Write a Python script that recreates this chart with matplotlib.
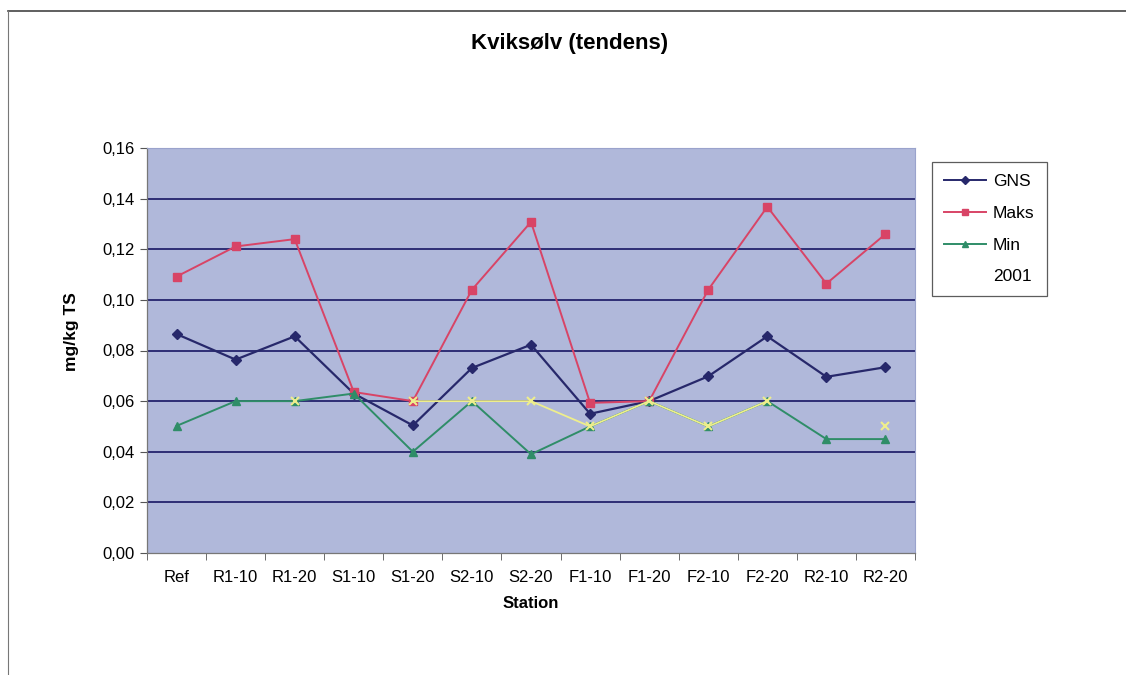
import numpy as np
import matplotlib
matplotlib.use("Agg")
import matplotlib.pyplot as plt
from matplotlib.lines import Line2D

plt.rcParams['font.family'] = ['Liberation Sans', 'DejaVu Sans']

stations = ["Ref", "R1-10", "R1-20", "S1-10", "S1-20", "S2-10", "S2-20",
            "F1-10", "F1-20", "F2-10", "F2-20", "R2-10", "R2-20"]
gns = [0.0865, 0.0764, 0.0856, 0.0630, 0.0504, 0.0731, 0.0823,
       0.0550, 0.0600, 0.0698, 0.0856, 0.0696, 0.0734]
maks = [0.1092, 0.1211, 0.1240, 0.0636, 0.0600, 0.1040, 0.1308,
        0.0593, 0.0600, 0.1040, 0.1368, 0.1064, 0.1260]
mins = [0.0502, 0.0600, 0.0600, 0.0630, 0.0400, 0.0600, 0.0390,
        0.0500, 0.0600, 0.0500, 0.0600, 0.0450, 0.0450]
y2001 = [np.nan, np.nan, 0.060, np.nan, 0.060, 0.060, 0.060,
         0.050, 0.060, 0.050, 0.060, np.nan, 0.050]
yticks = [0.00, 0.02, 0.04, 0.06, 0.08, 0.10, 0.12, 0.14, 0.16]

fig = plt.figure(figsize=(11.26, 6.75), dpi=100)
fig.patch.set_facecolor('white')
ax = fig.add_axes([147/1126, 1-553/675, 768/1126, 405/675])
ax.set_facecolor('#b0b8da')

x = np.arange(len(stations))
c_gns = '#27286b'
c_maks = '#d84466'
c_min = '#2f8d68'
c_2001 = '#eeee8c'

ax.plot(x, gns, color=c_gns, lw=1.6, marker='D', ms=5, zorder=3)
ax.plot(x, maks, color=c_maks, lw=1.4, marker='s', ms=6, zorder=4)
ax.plot(x, mins, color=c_min, lw=1.4, marker='^', ms=6, zorder=5)
ax.plot(x, y2001, color=c_2001, lw=1.3, marker='x', ms=6, mew=1.5, zorder=6)

ax.set_xlim(-0.5, len(stations) - 0.5)
ax.set_ylim(0, 0.16)
ax.set_yticks(yticks)
ax.set_yticklabels([f"{v:.2f}".replace('.', ',') for v in yticks], fontsize=12)
for v in yticks[1:-1]:
    ax.axhline(v, color='#2e2e75', lw=1.4, zorder=1)

ax.set_xticks(x)
ax.set_xticklabels(stations, fontsize=12)
ax.set_xticks(np.arange(-0.5, len(stations)), minor=True)
ax.tick_params(axis='x', which='major', length=0, pad=12)
ax.tick_params(axis='x', which='minor', length=5, color='#555555', direction='out')
ax.tick_params(axis='y', length=5, color='#555555', direction='out', pad=4)

for s in ['top', 'right']:
    ax.spines[s].set_color('#9aa3cc')
    ax.spines[s].set_linewidth(0.8)
for s in ['left', 'bottom']:
    ax.spines[s].set_color('#777777')
    ax.spines[s].set_linewidth(0.9)

ax.set_ylabel("mg/kg TS", fontsize=12.5, fontweight='bold')
ax.yaxis.set_label_coords((79 - 147) / 768, (553 - 332) / 405)
ax.set_xlabel("Station", fontsize=12, fontweight='bold', labelpad=8)

fig.text(570/1126, 1 - 44/675, "Kviksølv (tendens)", ha='center', va='center',
         fontsize=16, fontweight='bold')

handles = [
    Line2D([], [], color=c_gns, marker='D', ms=4, lw=1.4),
    Line2D([], [], color=c_maks, marker='s', ms=5, lw=1.4),
    Line2D([], [], color=c_min, marker='^', ms=5, lw=1.4),
    Line2D([], [], color=c_2001, marker='x', ms=0, lw=0),
]
leg = fig.legend(handles, ["GNS", "Maks", "Min", "2001"],
                 loc='upper left', bbox_to_anchor=(932/1126, 1-162/675),
                 fontsize=12.5, frameon=True, fancybox=False, handlelength=2.4,
                 labelspacing=0.95, borderpad=0.7, handletextpad=0.4,
                 borderaxespad=0)
leg.get_frame().set_edgecolor('#333333')
leg.get_frame().set_linewidth(0.9)

# outer chart border (top and left edges)
fig.add_artist(Line2D([8/1126, 1.0], [1-11/675, 1-11/675], color='#444444', lw=1.2))
fig.add_artist(Line2D([8/1126, 8/1126], [1-11/675, 0.0], color='#777777', lw=0.8))

fig.savefig("out.png", dpi=100, facecolor='white')
